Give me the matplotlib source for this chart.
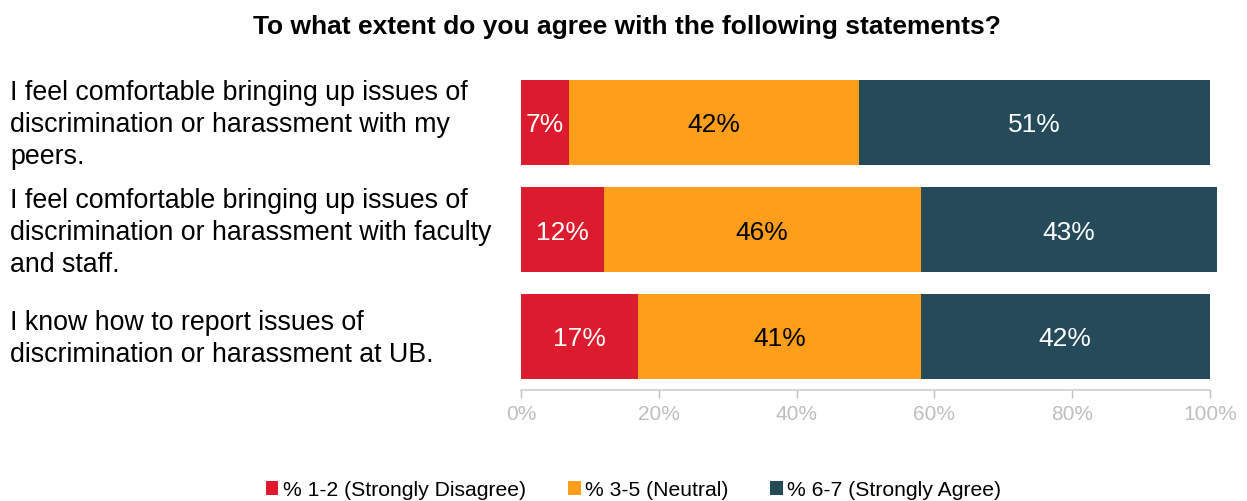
import matplotlib
matplotlib.use("Agg")
import matplotlib.pyplot as plt
import matplotlib.transforms as mtransforms

plt.rcParams["font.family"] = ["Liberation Sans", "DejaVu Sans"]

# data
statements = [
    "I feel comfortable bringing up issues of\ndiscrimination or harassment with my\npeers.",
    "I feel comfortable bringing up issues of\ndiscrimination or harassment with faculty\nand staff.",
    "I know how to report issues of\ndiscrimination or harassment at UB.",
]
series_names = ["% 1-2 (Strongly Disagree)", "% 3-5 (Neutral)", "% 6-7 (Strongly Agree)"]
disagree = [7, 12, 17]
neutral = [42, 46, 41]
agree = [51, 43, 42]
ticks = [0, 20, 40, 60, 80, 100]

colors = ["#DC1C2E", "#FF9E1B", "#254B5A"]
text_colors = ["white", "black", "white"]

fig = plt.figure(figsize=(12.47, 5.01), dpi=100)
ax = fig.add_axes([521 / 1247, 1 - 390 / 501, 689 / 1247, 321 / 501])

# small downward nudge for text so it sits like the original
down = mtransforms.ScaledTranslation(0, -3 / 100, fig.dpi_scale_trans)

ypos = list(range(len(statements)))
left = [0] * len(statements)
for vals, col, tcol, name in zip([disagree, neutral, agree], colors, text_colors, series_names):
    ax.barh(ypos, vals, left=left, height=0.8, color=col, label=name, clip_on=False)
    for y, l, v in zip(ypos, left, vals):
        ax.text(l + v / 2, y, f"{v}%", ha="center", va="center", color=tcol, fontsize=19,
                transform=ax.transData + down)
    left = [a + b for a, b in zip(left, vals)]

ax.set_xlim(0, 100)
ax.set_ylim(2.5, -0.5)
ax.set_yticks([])
ax.set_xticks(ticks)
ax.set_xticklabels([f"{t}%" for t in ticks], fontsize=15)
ax.tick_params(axis="x", colors="#BFBFBF", length=6, width=1, pad=5, labelcolor="#BFBFBF")
for s in ["top", "right", "left"]:
    ax.spines[s].set_visible(False)
ax.spines["bottom"].set_color("#D0D0D0")
ax.spines["bottom"].set_linewidth(1.2)

# row labels
trans = mtransforms.blended_transform_factory(fig.transFigure, ax.transData)
for y, s in zip(ypos, statements):
    ax.text(10 / 1247, y, s, transform=trans + down, ha="left", va="center", fontsize=19.3,
            linespacing=1.3, clip_on=False)

fig.text(0.503, 1 - 27 / 501, "To what extent do you agree with the following statements?",
         ha="center", va="center", fontsize=19, fontweight="bold")

fig.legend(loc="center", bbox_to_anchor=(0.508, 1 - 490 / 501), ncol=3, frameon=False,
           fontsize=15.2, handlelength=0.6, handleheight=0.6, handletextpad=0.2,
           columnspacing=2.0, borderaxespad=0)

fig.savefig("out.png", dpi=100)
